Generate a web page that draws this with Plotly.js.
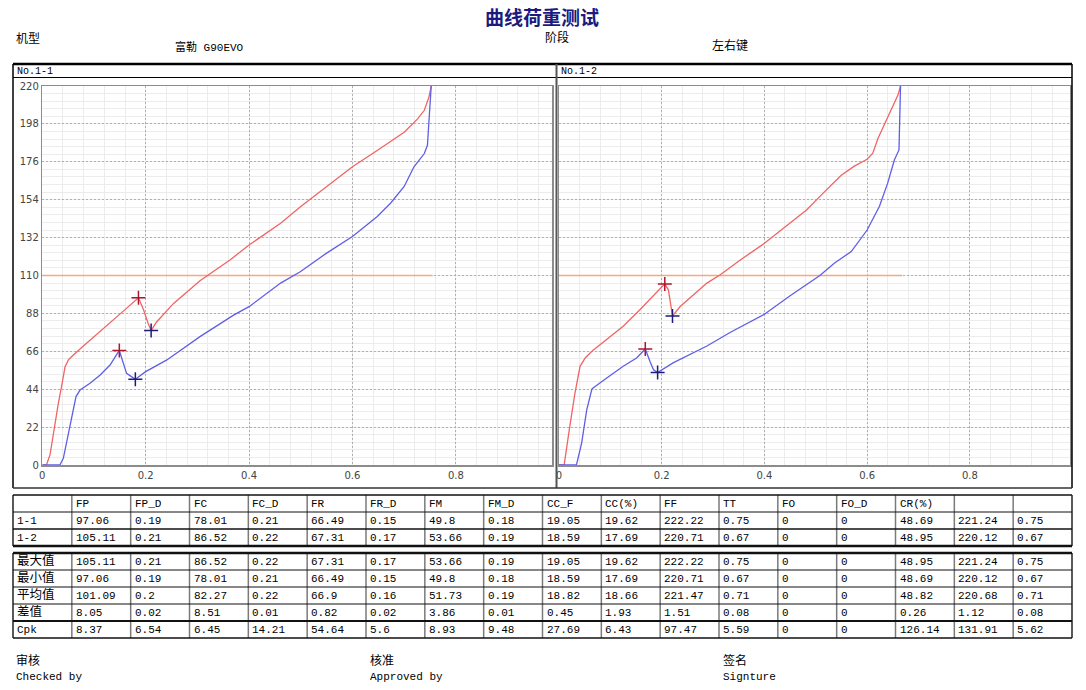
<!DOCTYPE html>
<html>
<head>
<meta charset="utf-8">
<script src="https://cdn.plot.ly/plotly-3.0.1.min.js"></script>
<style>
html,body{margin:0;padding:0;background:#fff;}
#chart{width:1086px;height:690px;}
</style>
</head>
<body>
<div id="chart"></div>
<script>
// ---------------- DATA ----------------
// Panel No.1-1 (stroke mm vs load gf)
const pressX1 = [0, 0.008, 0.015, 0.0213, 0.031, 0.0372, 0.044, 0.0505, 0.06, 0.0795, 0.112, 0.144, 0.165, 0.186, 0.196, 0.205, 0.2105, 0.221, 0.254, 0.305, 0.325, 0.363, 0.4, 0.461, 0.5, 0.55, 0.6, 0.65, 0.7, 0.726, 0.739, 0.748, 0.752, 0.754];
const pressY1 = [0, 0, 6, 18.4, 35.8, 45.5, 57, 61, 63.9, 69.1, 77.4, 86, 91.5, 97.06, 90, 82, 78.01, 83, 93.8, 107, 111, 119, 127.7, 140.3, 150, 161.5, 173.1, 183, 193.2, 200.9, 205.9, 213.7, 220, 222.22];
const returnX1 = [0, 0.034, 0.0407, 0.047, 0.057, 0.0652, 0.073, 0.0923, 0.112, 0.131, 0.149, 0.157, 0.163, 0.171, 0.18, 0.2, 0.241, 0.305, 0.37, 0.4, 0.434, 0.461, 0.499, 0.55, 0.6, 0.648, 0.674, 0.7, 0.719, 0.739, 0.745, 0.752, 0.7525];
const returnY1 = [0, 0, 3.9, 13.5, 28, 39.7, 43.5, 47.4, 52.2, 58, 66.49, 59, 53.2, 51.6, 49.8, 54.2, 61, 74.5, 87, 91.9, 99.7, 105.6, 112.2, 123, 132.6, 144.2, 152.1, 161.7, 173.1, 180.8, 185.6, 220, 220.8];

// Panel No.1-2
const pressX2 = [0, 0.01, 0.021, 0.031, 0.041, 0.051, 0.064, 0.093, 0.125, 0.158, 0.19, 0.206, 0.213, 0.218, 0.221, 0.236, 0.288, 0.314, 0.353, 0.4, 0.45, 0.482, 0.51, 0.549, 0.575, 0.6, 0.611, 0.621, 0.634, 0.647, 0.66, 0.665, 0.666];
const pressY2 = [0, 0, 22.4, 41.6, 57.3, 62.1, 66, 72.8, 80.6, 90.3, 99.8, 105.11, 101.7, 92, 86.52, 92, 105.6, 110.4, 119, 128.7, 140.3, 148, 156.5, 168, 173.5, 177.5, 181, 189.5, 198, 205.9, 214.7, 220, 220.71];
const returnX2 = [0, 0.034, 0.044, 0.054, 0.064, 0.067, 0.093, 0.125, 0.151, 0.168, 0.177, 0.184, 0.192, 0.223, 0.288, 0.333, 0.4, 0.45, 0.508, 0.536, 0.569, 0.6, 0.624, 0.64, 0.653, 0.662, 0.665, 0.6655];
const returnY2 = [0, 0, 12.6, 32, 44, 44.8, 50.5, 57.3, 62.1, 67.31, 60.2, 55.3, 53.66, 59.4, 69.1, 76.9, 87.5, 98.2, 110, 117.1, 123.9, 136.4, 150.2, 163.6, 177, 182.9, 220, 220.71];

// Peak / valley markers [press peak, return peak] and [press valley, return valley]
const peakX1 = [0.186, 0.149], peakY1 = [97.06, 66.49];
const valleyX1 = [0.2105, 0.18], valleyY1 = [78.01, 49.8];
const peakX2 = [0.206, 0.168], peakY2 = [105.11, 67.31];
const valleyX2 = [0.221, 0.192], valleyY2 = [86.52, 53.66];

// Reference line (half load)
const refLoad = 110;
const refEnd = [0.755, 0.668];

// Axis ticks
const yTicks = [0, 22, 44, 66, 88, 110, 132, 154, 176, 198, 220];
const xTicks = [0, 0.2, 0.4, 0.6, 0.8, 1];

// Table
const colHeaders = ['', 'FP', 'FP_D', 'FC', 'FC_D', 'FR', 'FR_D', 'FM', 'FM_D', 'CC_F', 'CC(%)', 'FF', 'TT', 'FO', 'FO_D', 'CR(%)', '', ''];
const sampleLabels = ['1-1', '1-2'];
const row11 = [97.06, 0.19, 78.01, 0.21, 66.49, 0.15, 49.8, 0.18, 19.05, 19.62, 222.22, 0.75, 0, 0, 48.69, 221.24, 0.75];
const row12 = [105.11, 0.21, 86.52, 0.22, 67.31, 0.17, 53.66, 0.19, 18.59, 17.69, 220.71, 0.67, 0, 0, 48.95, 220.12, 0.67];
const statLabels = ['最大值', '最小值', '平均值', '差值', 'Cpk'];
const rowMax = [105.11, 0.21, 86.52, 0.22, 67.31, 0.17, 53.66, 0.19, 19.05, 19.62, 222.22, 0.75, 0, 0, 48.95, 221.24, 0.75];
const rowMin = [97.06, 0.19, 78.01, 0.21, 66.49, 0.15, 49.8, 0.18, 18.59, 17.69, 220.71, 0.67, 0, 0, 48.69, 220.12, 0.67];
const rowAvg = [101.09, 0.2, 82.27, 0.22, 66.9, 0.16, 51.73, 0.19, 18.82, 18.66, 221.47, 0.71, 0, 0, 48.82, 220.68, 0.71];
const rowDiff = [8.05, 0.02, 8.51, 0.01, 0.82, 0.02, 3.86, 0.01, 0.45, 1.93, 1.51, 0.08, 0, 0, 0.26, 1.12, 0.08];
const rowCpk = [8.37, 6.54, 6.45, 14.21, 54.64, 5.6, 8.93, 9.48, 27.69, 6.43, 97.47, 5.59, 0, 0, 126.14, 131.91, 5.62];

// Header texts
const reportTitle = '曲线荷重测试';
const modelLabel = '机型', modelName = '富勒 G90EVO';
const stageLabel = '阶段', stageName = '左右键';
const panelNames = ['No.1-1', 'No.1-2'];
const footerCN = ['审核', '核准', '签名'];
const footerEN = ['Checked by', 'Approved by', 'Signture'];

// ---------------- LAYOUT HELPERS ----------------
const W = 1086, H = 690;
const PX = p => p / W;
const PY = p => 1 - p / H;
const monoFont = 'Liberation Mono, Noto Sans CJK SC, monospace';
const cjkFont = 'Noto Sans CJK SC, sans-serif';

const annotations = [];
const shapes = [];
function txt(x, y, text, opt) {
  opt = opt || {};
  annotations.push({
    xref: 'paper', yref: 'paper', x: PX(x), y: PY(y), text: text, showarrow: false,
    xanchor: opt.xanchor || 'left', yanchor: opt.yanchor || 'middle',
    font: { family: opt.family || monoFont, size: opt.size || 11, color: opt.color || '#000' }
  });
}
function line(x0, y0, x1, y1, w, c) {
  shapes.push({ type: 'line', xref: 'paper', yref: 'paper', x0: PX(x0), y0: PY(y0), x1: PX(x1), y1: PY(y1),
    line: { width: w, color: c || '#000' }, layer: 'above' });
}

// Title & header
txt(542, 16, '<b>' + reportTitle + '</b>', { xanchor: 'center', family: cjkFont, size: 19, color: '#1a1a80' });
txt(14, 38, modelLabel, { family: cjkFont, size: 12 });
txt(173, 47, modelName, { family: monoFont, size: 11 });
txt(543, 37, stageLabel, { family: cjkFont, size: 12 });
txt(710, 45, stageName, { family: cjkFont, size: 12 });

// Panel frames
line(13, 64, 1072, 64, 2.5);
line(13, 77.5, 1072, 77.5, 1);
line(13, 64, 13, 488, 1.5);
line(1072, 64, 1072, 488, 1.5);
line(556.5, 64, 556.5, 488, 2, '#555');
line(13, 488, 1072, 488, 1.5, '#333');
txt(15, 71, panelNames[0], { size: 10 });
txt(559, 71, panelNames[1], { size: 10 });

// Table
const colW = (1072 - 13) / 18;
const rowH = 17;
const t1Top = 495, t2Top = 553;
const t1Rows = [colHeaders, [sampleLabels[0]].concat(row11), [sampleLabels[1]].concat(row12)];
const t2Rows = [rowMax, rowMin, rowAvg, rowDiff, rowCpk].map((r, i) => [statLabels[i]].concat(r));
function drawTable(rows, top, hWidths) {
  rows.forEach((r, i) => {
    r.forEach((v, j) => {
      const s = String(v);
      if (s === '') return;
      const isCJK = /[\u4e00-\u9fff]/.test(s);
      const yc = top + i * rowH + rowH / 2 + (isCJK ? -2 : 0.5);
      txt(13 + j * colW + 2, yc, s, { family: isCJK ? cjkFont : monoFont, size: isCJK ? 12.5 : 11 });
    });
  });
  const bottom = top + rows.length * rowH;
  for (let j = 0; j <= 18; j++) {
    const x = 13 + j * colW;
    line(x, top, x, bottom, 1.5, (j === 0 || j === 18) ? '#222' : '#7a7a7a');
  }
  for (let i = 0; i <= rows.length; i++) {
    line(13, top + i * rowH, 1072, top + i * rowH, hWidths[i], '#111');
  }
}
drawTable(t1Rows, t1Top, [1.5, 1, 1.5, 2.5]);
drawTable(t2Rows, t2Top, [2.5, 1, 1, 1, 2, 1.5]);

// Footer
const footX = [14, 368, 721];
footerCN.forEach((t, i) => txt(footX[i], 659.5, t, { family: cjkFont, size: 12 }));
footerEN.forEach((t, i) => txt(footX[i], 677, t, { family: monoFont, size: 11 }));

// ---------------- TRACES ----------------
const pressColor = '#f06464', returnColor = '#5f5fe6', peakColor = '#b0142c', valleyColor = '#1c1c78', refColor = '#f5a878';
function panelTraces(px, py, rx, ry, pkx, pky, vx, vy, end, xa, ya) {
  return [
    { x: [0, end], y: [refLoad, refLoad], mode: 'lines', line: { color: refColor, width: 1.5 }, xaxis: xa, yaxis: ya, hoverinfo: 'skip' },
    { x: px, y: py, mode: 'lines', line: { color: pressColor, width: 1.3 }, xaxis: xa, yaxis: ya },
    { x: rx, y: ry, mode: 'lines', line: { color: returnColor, width: 1.3 }, xaxis: xa, yaxis: ya },
    { x: pkx, y: pky, mode: 'markers', marker: { symbol: 'cross-thin', size: 10, line: { width: 1.5, color: peakColor } }, xaxis: xa, yaxis: ya },
    { x: vx, y: vy, mode: 'markers', marker: { symbol: 'cross-thin', size: 10, line: { width: 1.5, color: valleyColor } }, xaxis: xa, yaxis: ya }
  ];
}
const data = [].concat(
  panelTraces(pressX1, pressY1, returnX1, returnY1, peakX1, peakY1, valleyX1, valleyY1, refEnd[0], 'x', 'y'),
  panelTraces(pressX2, pressY2, returnX2, returnY2, peakX2, peakY2, valleyX2, valleyY2, refEnd[1], 'x2', 'y2')
);

const tickFont = { family: 'DejaVu Sans, Verdana, sans-serif', size: 10, color: '#444' };
const majorGrid = { showgrid: true, gridcolor: '#b0b0b0', griddash: '2px,2px', gridwidth: 1 };
function xAxis(domain, range, anchor) {
  return Object.assign({
    domain: domain, range: range, anchor: anchor, tickvals: xTicks, ticktext: xTicks.map(String),
    minor: { dtick: 0.04, tick0: 0, showgrid: true, gridcolor: '#ececec', griddash: 'solid', gridwidth: 1 },
    showline: true, linecolor: '#8c8c8c', linewidth: 1.5, mirror: true, zeroline: false,
    ticks: '', tickfont: tickFont, fixedrange: true
  }, majorGrid);
}
function yAxis(showLabels, anchor) {
  return Object.assign({
    domain: [PY(465), PY(86)], range: [0, 220], anchor: anchor, tickvals: yTicks,
    showticklabels: showLabels,
    minor: { dtick: 4.4, tick0: 0, showgrid: true, gridcolor: '#ececec', griddash: 'solid', gridwidth: 1 },
    showline: true, linecolor: '#8c8c8c', linewidth: 1.5, mirror: true, zeroline: false,
    ticks: '', tickfont: tickFont, fixedrange: true
  }, majorGrid);
}

const layout = {
  width: W, height: H,
  margin: { l: 0, r: 0, t: 0, b: 0 },
  paper_bgcolor: '#fff', plot_bgcolor: '#fff',
  showlegend: false,
  xaxis: xAxis([PX(42.3), PX(552)], [0, 0.986], 'y'),
  yaxis: yAxis(true, 'x'),
  xaxis2: xAxis([PX(559), PX(1070)], [0, 0.995], 'y2'),
  yaxis2: yAxis(false, 'x2'),
  annotations: annotations,
  shapes: shapes
};

Plotly.newPlot('chart', data, layout, { staticPlot: true, displayModeBar: false });
</script>
</body>
</html>
